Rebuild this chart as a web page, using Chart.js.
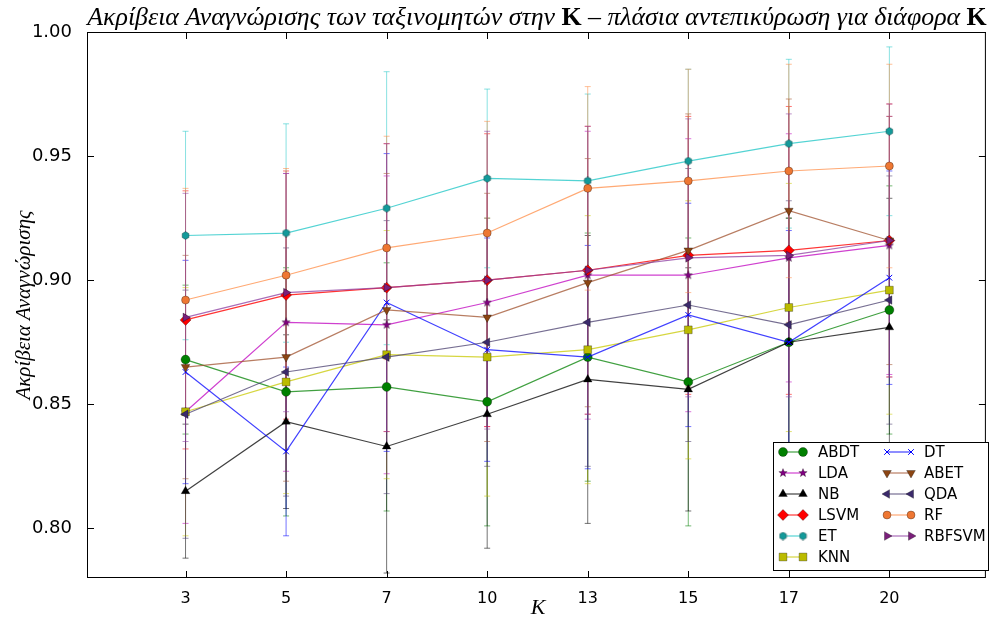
<!DOCTYPE html>
<html>
<head>
<meta charset="utf-8">
<script src="https://cdn.jsdelivr.net/npm/chart.js@4"></script>
<style>
  html, body { margin: 0; padding: 0; background: #fff; }
  canvas { display: block; }
</style>
</head>
<body>
<canvas id="chart" width="992" height="621"></canvas>
<script>
// x categories (K values) and y tick labels
const kLabels = ['3', '5', '7', '10', '13', '15', '17', '20'];
const yTicks = [0.80, 0.85, 0.90, 0.95, 1.00];

// mean accuracy per classifier
const abdt   = [0.868, 0.855, 0.857, 0.851, 0.869, 0.859, 0.875, 0.888];
const lda    = [0.847, 0.883, 0.882, 0.891, 0.902, 0.902, 0.909, 0.914];
const nb     = [0.815, 0.843, 0.833, 0.846, 0.860, 0.856, 0.875, 0.881];
const lsvm   = [0.884, 0.894, 0.897, 0.900, 0.904, 0.910, 0.912, 0.916];
const et     = [0.918, 0.919, 0.929, 0.941, 0.940, 0.948, 0.955, 0.960];
const knn    = [0.847, 0.859, 0.870, 0.869, 0.872, 0.880, 0.889, 0.896];
const dt     = [0.863, 0.831, 0.891, 0.872, 0.869, 0.886, 0.875, 0.901];
const abet   = [0.865, 0.869, 0.888, 0.885, 0.899, 0.912, 0.928, 0.916];
const qda    = [0.846, 0.863, 0.869, 0.875, 0.883, 0.890, 0.882, 0.892];
const rf     = [0.892, 0.902, 0.913, 0.919, 0.937, 0.940, 0.944, 0.946];
const rbfsvm = [0.885, 0.895, 0.897, 0.900, 0.904, 0.909, 0.910, 0.916];

// standard deviation (error bar half length)
const abdtErr   = [0.030, 0.050, 0.050, 0.050, 0.050, 0.058, 0.050, 0.050];
const ldaErr    = [0.045, 0.060, 0.060, 0.050, 0.058, 0.055, 0.050, 0.052];
const nbErr     = [0.027, 0.035, 0.051, 0.054, 0.058, 0.049, 0.050, 0.052];
const lsvmErr   = [0.052, 0.050, 0.058, 0.059, 0.058, 0.056, 0.058, 0.055];
const etErr     = [0.042, 0.044, 0.055, 0.036, 0.035, 0.037, 0.034, 0.034];
const knnErr    = [0.050, 0.045, 0.050, 0.056, 0.054, 0.052, 0.050, 0.050];
const dtErr     = [0.045, 0.034, 0.060, 0.045, 0.045, 0.045, 0.045, 0.043];
const abetErr   = [0.045, 0.050, 0.055, 0.050, 0.050, 0.055, 0.045, 0.050];
const qdaErr    = [0.050, 0.050, 0.055, 0.050, 0.058, 0.055, 0.050, 0.050];
const rfErr     = [0.045, 0.043, 0.045, 0.045, 0.041, 0.045, 0.043, 0.041];
const rbfsvmErr = [0.050, 0.048, 0.058, 0.060, 0.058, 0.056, 0.057, 0.055];

// small canvas markers for shapes Chart.js does not have
function makeMarker(shape, fill, size) {
    const c = document.createElement('canvas');
    c.width = size; c.height = size;
    const g = c.getContext('2d');
    const cx = size / 2, cy = size / 2, r = size / 2 - 0.6;
    g.beginPath();
    if (shape === 'star') {
        for (let i = 0; i < 10; i++) {
            const rr = i % 2 === 0 ? r : r * 0.42;
            const a = -Math.PI / 2 + i * Math.PI / 5;
            g.lineTo(cx + rr * Math.cos(a), cy + rr * Math.sin(a));
        }
    } else {
        for (let i = 0; i < 6; i++) {
            const a = -Math.PI / 2 + i * Math.PI / 3;
            g.lineTo(cx + r * Math.cos(a), cy + r * Math.sin(a));
        }
    }
    g.closePath();
    g.fillStyle = fill;
    g.fill();
    g.strokeStyle = 'rgba(0,0,0,0.5)';
    g.lineWidth = 0.6;
    g.stroke();
    return c;
}

const series = [
    { name: 'ABDT',   data: abdt,   err: abdtErr,   line: 'rgba(0,128,0,0.75)',    marker: '#008000', style: 'circle',   radius: 4.5 },
    { name: 'LDA',    data: lda,    err: ldaErr,    line: 'rgba(191,0,191,0.75)',  marker: '#800080', style: makeMarker('star', '#800080', 10), radius: 5 },
    { name: 'NB',     data: nb,     err: nbErr,     line: 'rgba(0,0,0,0.75)',      marker: '#000000', style: 'triangle', radius: 5 },
    { name: 'LSVM',   data: lsvm,   err: lsvmErr,   line: 'rgba(255,0,0,0.8)',     marker: '#ff0000', style: 'rectRot',  radius: 5.5 },
    { name: 'ET',     data: et,     err: etErr,     line: 'rgba(40,200,200,0.8)',  marker: '#139a9a', style: makeMarker('hex', '#139a9a', 9), radius: 4.5 },
    { name: 'KNN',    data: knn,    err: knnErr,    line: 'rgba(200,200,0,0.75)',  marker: '#bbbb00', style: 'rect',     radius: 5.5 },
    { name: 'DT',     data: dt,     err: dtErr,     line: 'rgba(0,0,255,0.75)',    marker: '#0000ff', style: 'crossRot', radius: 4 },
    { name: 'ABET',   data: abet,   err: abetErr,   line: 'rgba(160,82,45,0.75)',  marker: '#8b4513', style: 'triangle', radius: 5, rot: 180 },
    { name: 'QDA',    data: qda,    err: qdaErr,    line: 'rgba(72,61,110,0.75)',  marker: '#3b2a6b', style: 'triangle', radius: 5, rot: 270 },
    { name: 'RF',     data: rf,     err: rfErr,     line: 'rgba(255,140,70,0.75)', marker: '#ee7733', style: 'circle',   radius: 4 },
    { name: 'RBFSVM', data: rbfsvm, err: rbfsvmErr, line: 'rgba(140,60,160,0.75)', marker: '#7a1f7a', style: 'triangle', radius: 5, rot: 90 }
];

function errColor(s) {
    return s.line.replace(/[\d.]+\)$/, '0.55)');
}

const datasets = series.map((s, i) => ({
    label: s.name,
    data: s.data.map((v, j) => ({ x: j + 1, y: v })),
    err: s.err,
    errColor: errColor(s),
    borderColor: s.line,
    borderWidth: 1.2,
    backgroundColor: s.marker,
    pointBackgroundColor: s.marker,
    pointBorderColor: s.style === 'crossRot' ? s.marker : 'rgba(0,0,0,0.5)',
    pointBorderWidth: s.style === 'crossRot' ? 1 : 0.6,
    pointStyle: s.style,
    pointRadius: s.radius,
    pointRotation: s.rot || 0,
    tension: 0,
    fill: false,
    order: series.length - i
}));

// vertical error bars with caps
const errorBars = {
    id: 'errorBars',
    beforeDatasetsDraw(chart) {
        const ctx = chart.ctx, y = chart.scales.y, area = chart.chartArea;
        ctx.save();
        ctx.beginPath();
        ctx.rect(area.left, area.top, area.right - area.left, area.bottom - area.top);
        ctx.clip();
        chart.data.datasets.forEach((ds, i) => {
            const meta = chart.getDatasetMeta(i);
            ctx.strokeStyle = ds.errColor;
            ctx.lineWidth = 1;
            meta.data.forEach((pt, j) => {
                const v = ds.data[j].y, e = ds.err[j];
                const top = y.getPixelForValue(v + e), bot = y.getPixelForValue(v - e);
                ctx.beginPath();
                ctx.moveTo(pt.x, top); ctx.lineTo(pt.x, bot);
                ctx.moveTo(pt.x - 3, top); ctx.lineTo(pt.x + 3, top);
                ctx.moveTo(pt.x - 3, bot); ctx.lineTo(pt.x + 3, bot);
                ctx.stroke();
            });
        });
        ctx.restore();
    }
};

// axes frame with inward ticks on all four sides
const frame = {
    id: 'frame',
    afterDatasetsDraw(chart) {
        const ctx = chart.ctx, a = chart.chartArea;
        const xs = chart.scales.x, ys = chart.scales.y;
        ctx.save();
        ctx.strokeStyle = '#000';
        ctx.lineWidth = 1;
        ctx.strokeRect(a.left + 0.5, a.top + 0.5, a.right - a.left - 1, a.bottom - a.top - 1);
        ctx.beginPath();
        kLabels.forEach((_, i) => {
            const px = Math.round(xs.getPixelForValue(i + 1)) + 0.5;
            ctx.moveTo(px, a.bottom); ctx.lineTo(px, a.bottom - 7);
            ctx.moveTo(px, a.top); ctx.lineTo(px, a.top + 7);
        });
        yTicks.forEach(v => {
            const py = Math.round(ys.getPixelForValue(v)) + 0.5;
            ctx.moveTo(a.left, py); ctx.lineTo(a.left + 7, py);
            ctx.moveTo(a.right, py); ctx.lineTo(a.right - 7, py);
        });
        ctx.stroke();
        ctx.restore();
    }
};

// legend box in lower right corner, two columns
const legendBox = {
    id: 'legendBox',
    afterDraw(chart) {
        const ctx = chart.ctx;
        ctx.save();
        ctx.fillStyle = '#fff';
        ctx.fillRect(773, 442, 216, 128);
        ctx.strokeStyle = '#000';
        ctx.lineWidth = 1;
        ctx.strokeRect(773.5, 442.5, 215, 128);
        ctx.font = '15px "DejaVu Sans"';
        ctx.textBaseline = 'middle';
        const rowY = [452, 473, 494, 515, 536, 557];
        chart.data.datasets.forEach((ds, i) => {
            const col = i < 6 ? 0 : 1;
            const row = i < 6 ? i : i - 6;
            const x1 = col ? 887 : 783, x2 = col ? 911 : 803, tx = col ? 924 : 818;
            const yy = rowY[row];
            ctx.strokeStyle = ds.borderColor;
            ctx.lineWidth = 1.2;
            ctx.beginPath();
            ctx.moveTo(x1, yy); ctx.lineTo(x2, yy);
            ctx.stroke();
            const opts = {
                pointStyle: ds.pointStyle, radius: ds.pointRadius, rotation: ds.pointRotation,
                borderWidth: ds.pointBorderWidth
            };
            [x1, x2].forEach(px => {
                ctx.fillStyle = ds.pointBackgroundColor;
                ctx.strokeStyle = ds.pointBorderColor;
                ctx.lineWidth = ds.pointBorderWidth;
                Chart.helpers.drawPoint(ctx, opts, px, yy);
            });
            ctx.fillStyle = '#000';
            ctx.fillText(ds.label, tx, yy + 1);
        });
        ctx.restore();
    }
};

// title and axis titles (mixed italic / upright)
const texts = {
    id: 'texts',
    afterDraw(chart) {
        const ctx = chart.ctx, a = chart.chartArea;
        ctx.save();
        ctx.fillStyle = '#000';
        const parts = [
            ['italic', 'Ακρίβεια Αναγνώρισης των ταξινομητών στην '],
            ['bold', 'K'],
            ['italic', ' – πλάσια αντεπικύρωση για διάφορα '],
            ['bold', 'K']
        ];
        const fontOf = (st, sz) => (st === 'bold' ? 'bold ' : 'italic ') + sz + 'px "Liberation Serif"';
        let size = 22, w = 0;
        parts.forEach(p => { ctx.font = fontOf(p[0], size); w += ctx.measureText(p[1]).width; });
        size = size * 900 / w;
        w = 0;
        parts.forEach(p => { ctx.font = fontOf(p[0], size); w += ctx.measureText(p[1]).width; });
        let x = 537 - w / 2;
        ctx.textBaseline = 'alphabetic';
        ctx.textAlign = 'left';
        parts.forEach(p => {
            ctx.font = fontOf(p[0], size);
            ctx.fillText(p[1], x, 25);
            x += ctx.measureText(p[1]).width;
        });

        ctx.font = 'italic 22px "Liberation Serif"';
        ctx.textAlign = 'center';
        ctx.fillText('K', 538, 614);

        ctx.translate(24, (a.top + a.bottom) / 2);
        ctx.rotate(-Math.PI / 2);
        ctx.font = 'italic 21px "Liberation Serif"';
        ctx.textBaseline = 'middle';
        ctx.fillText('Ακρίβεια Αναγνώρισης', 0, 0);
        ctx.restore();
    }
};

new Chart(document.getElementById('chart'), {
    type: 'line',
    data: { datasets: datasets },
    options: {
        responsive: false,
        animation: false,
        layout: { padding: { top: 32, right: 2, left: 0, bottom: 0 } },
        scales: {
            x: {
                type: 'linear',
                min: 0.02,
                max: 8.96,
                afterBuildTicks: s => { s.ticks = kLabels.map((_, i) => ({ value: i + 1 })); },
                afterFit: s => { s.height = 43; },
                ticks: {
                    callback: v => kLabels[v - 1],
                    color: '#000',
                    font: { family: 'DejaVu Sans', size: 16 },
                    padding: 3,
                    maxRotation: 0,
                    autoSkip: false
                },
                grid: { display: false },
                border: { display: false }
            },
            y: {
                min: 0.78,
                max: 1.0,
                afterBuildTicks: s => { s.ticks = yTicks.map(v => ({ value: v })); },
                afterFit: s => { s.width = 87; },
                ticks: {
                    callback: v => v.toFixed(2),
                    color: '#000',
                    font: { family: 'DejaVu Sans', size: 18 },
                    padding: 7
                },
                grid: { display: false },
                border: { display: false }
            }
        },
        plugins: {
            legend: { display: false },
            tooltip: { enabled: false }
        }
    },
    plugins: [errorBars, frame, legendBox, texts]
});
</script>
</body>
</html>
